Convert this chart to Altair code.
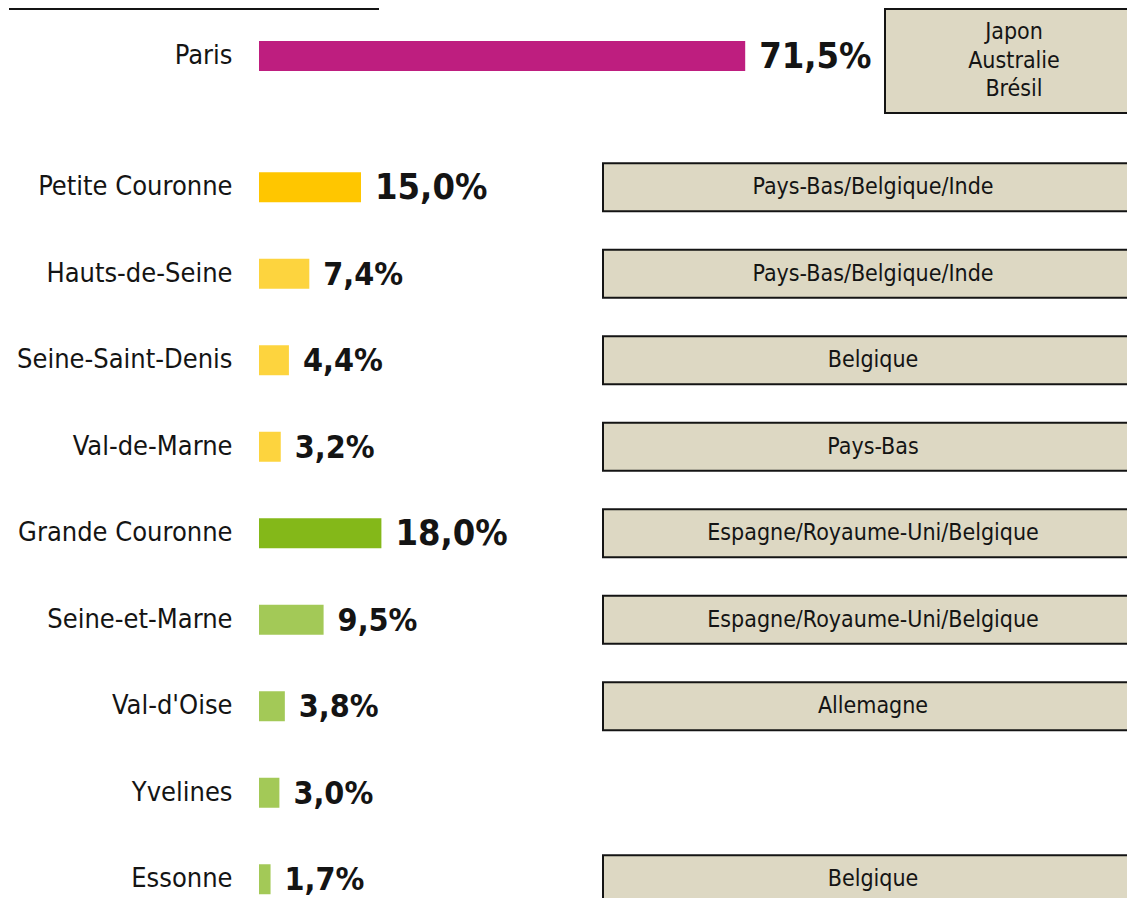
import altair as alt
import pandas as pd

# ---- data ----
regions = ["Paris", "Petite Couronne", "Hauts-de-Seine", "Seine-Saint-Denis", "Val-de-Marne",
           "Grande Couronne", "Seine-et-Marne", "Val-d'Oise", "Yvelines", "Essonne"]
shares = [71.5, 15.0, 7.4, 4.4, 3.2, 18.0, 9.5, 3.8, 3.0, 1.7]
zones = ["Paris", "Petite Couronne", "Petite Couronne (dép.)", "Petite Couronne (dép.)",
         "Petite Couronne (dép.)", "Grande Couronne", "Grande Couronne (dép.)",
         "Grande Couronne (dép.)", "Grande Couronne (dép.)", "Grande Couronne (dép.)"]
levels = ["ensemble", "ensemble", "département", "département", "département",
          "ensemble", "département", "département", "département", "département"]
countries = ["Japon\nAustralie\nBrésil", "Pays-Bas/Belgique/Inde", "Pays-Bas/Belgique/Inde",
             "Belgique", "Pays-Bas", "Espagne/Royaume-Uni/Belgique",
             "Espagne/Royaume-Uni/Belgique", "Allemagne", "", "Belgique"]

zone_domain = ["Paris", "Petite Couronne", "Petite Couronne (dép.)",
               "Grande Couronne", "Grande Couronne (dép.)"]
zone_colors = ["#BE1E7F", "#FFC600", "#FDD43E", "#84B819", "#A3C957"]

df = pd.DataFrame({"region": regions, "share": shares, "zone": zones,
                   "level": levels, "countries": countries})
df["label"] = [f"{v:.1f}".replace(".", ",") + "%" for v in shares]

FONT = "DejaVu Sans Condensed"
INK = "#141414"
BOX_FILL = "#DDD8C3"
W = 882
STEP = 86.5
xscale = alt.Scale(domain=[0, 130], range=[0, 130 * 6.8], nice=False, zero=True)

paris_df = df[df.region == "Paris"]
rest_df = df[df.region != "Paris"]
rest_order = [r for r in regions if r != "Paris"]


def rows(data, order, yrange):
    base = alt.Chart(data).encode(
        y=alt.Y("region:N", sort=order, title=None,
                scale=alt.Scale(paddingInner=0, paddingOuter=0, range=yrange),
                axis=alt.Axis(domain=False, ticks=False, grid=False, labelPadding=27,
                              labelFont=FONT, labelFontSize=27, labelColor=INK,
                              labelLimit=400))
    )
    bars = base.mark_bar(size=30).encode(
        x=alt.X("share:Q", scale=xscale, axis=None),
        color=alt.Color("zone:N", scale=alt.Scale(domain=zone_domain, range=zone_colors),
                        legend=None),
    )
    values = base.mark_text(align="left", baseline="middle", dx=14, dy=1, font=FONT,
                            fontWeight="bold", color=INK).encode(
        x=alt.X("share:Q", scale=xscale, axis=None),
        text="label:N",
        size=alt.Size("level:N", scale=alt.Scale(domain=["ensemble", "département"],
                                                 range=[36, 32]), legend=None),
    )
    return base, bars, values


# ---- Paris panel ----
pb, pbars, pvals = rows(paris_df, ["Paris"], [0, 96])
top_rule = alt.Chart(paris_df).mark_rule(color=INK, strokeWidth=2).encode(
    x=alt.value(-250), x2=alt.value(120), y=alt.value(1))
paris_box = alt.Chart(paris_df).mark_rect(fill=BOX_FILL, stroke=INK, strokeWidth=2).encode(
    x=alt.value(626), x2=alt.value(W), y=alt.value(1), y2=alt.value(105))
paris_box_text = alt.Chart(paris_df).mark_text(
    font=FONT, fontSize=23, color=INK, lineBreak="\n", lineHeight=28.5,
    align="center", baseline="top").encode(
    x=alt.value(755), y=alt.value(13), text="countries:N")
paris_panel = alt.layer(top_rule, paris_box, paris_box_text, pbars, pvals).properties(
    width=W, height=96)

# ---- departments panel ----
rb, rbars, rvals = rows(rest_df, rest_order, [0, 9 * STEP])
boxes = rb.transform_filter("datum.countries != ''").mark_bar(
    size=48, fill=BOX_FILL, stroke=INK, strokeWidth=2).encode(
    x=alt.value(344), x2=alt.value(W))
box_text = rb.transform_filter("datum.countries != ''").mark_text(
    font=FONT, fontSize=23, color=INK, align="center", baseline="middle").encode(
    x=alt.value(614), text="countries:N")
rest_panel = alt.layer(boxes, box_text, rbars, rvals).properties(width=W, height=9 * STEP)

chart = alt.vconcat(paris_panel, rest_panel, spacing=40, bounds="flush").properties(
    padding={"top": 0, "bottom": -25, "left": 0, "right": -15}, background="white"
).configure_view(stroke=None)

chart.save("out.html", embed_options={"renderer": "svg", "actions": False})
